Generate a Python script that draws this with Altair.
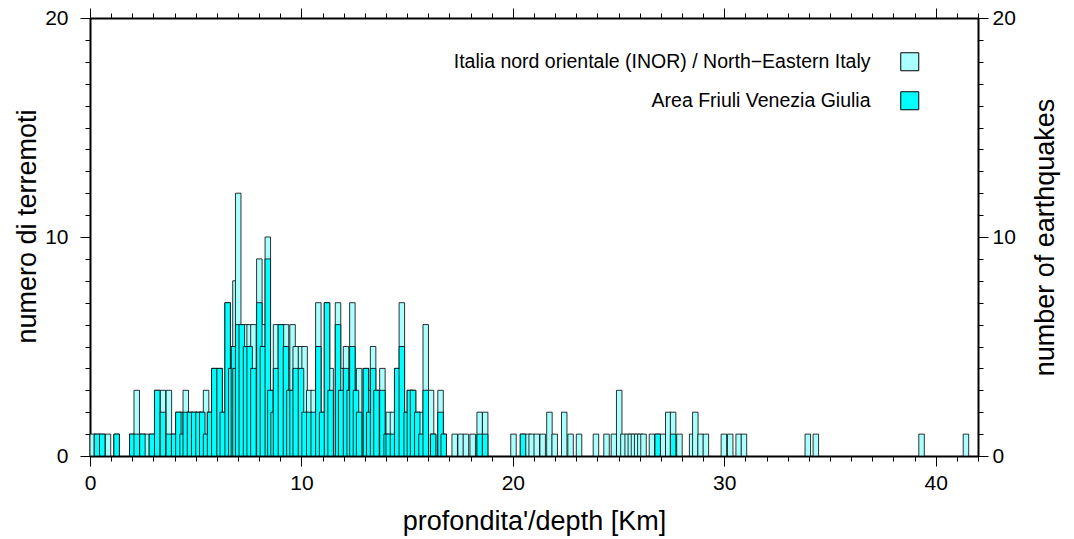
import altair as alt
import pandas as pd

FONT = "Liberation Sans"

# depth of each bar (left edge, km), total count (INOR) and Friuli Venezia Giulia count
depth = [0.00, 0.20, 0.45, 0.72, 1.13, 1.87, 2.08, 2.35, 2.55, 2.80,
         3.05, 3.32, 3.60, 3.85, 4.05, 4.25, 4.40, 4.60, 4.80, 5.00,
         5.18, 5.36, 5.55, 5.75, 6.00, 6.15, 6.38, 6.55, 6.68, 6.75,
         6.88, 7.05, 7.25, 7.42, 7.60, 7.88, 8.05, 8.28, 8.40, 8.55,
         8.67, 8.90, 9.14, 9.30, 9.45, 9.60, 9.85, 10.02, 10.24, 10.45,
         10.67, 10.85, 11.08, 11.25, 11.60, 11.75, 11.98, 12.15, 12.28, 12.45,
         12.60, 12.92, 13.08, 13.26, 13.42, 13.70, 13.90, 14.00, 14.20, 14.40,
         14.62, 14.85, 15.00, 15.15, 15.35, 15.55, 15.75, 16.00, 16.10, 16.45,
         16.60, 17.12, 17.40, 17.65, 17.97, 18.30, 18.56, 19.90, 20.35, 20.60,
         20.76, 21.00, 21.28, 21.60, 21.85, 22.30, 22.60, 23.00, 23.80, 24.30,
         24.65, 24.90, 25.10, 25.30, 25.45, 25.60, 25.75, 25.90, 26.05, 26.45,
         26.72, 26.98, 27.22, 27.45, 27.75, 28.35, 28.50, 28.75, 29.00, 29.85,
         30.15, 30.55, 30.80, 33.82, 34.20, 39.20, 41.30]
n_all = [1, 1, 1, 1, 1, 1, 3, 1, 1, 1,
         3, 3, 3, 1, 2, 2, 3, 2, 2, 2,
         2, 3, 2, 4, 4, 2, 7, 4, 5, 8,
         12, 6, 6, 6, 6, 9, 6, 10, 3, 2,
         6, 6, 6, 4, 6, 5, 5, 5, 3, 3,
         7, 2, 7, 4, 7, 4, 5, 3, 7, 3,
         4, 4, 3, 5, 3, 4, 1, 2, 2, 4,
         7, 2, 3, 3, 2, 2, 6, 3, 1, 3,
         1, 1, 1, 1, 1, 2, 2, 1, 1, 1,
         1, 1, 1, 2, 1, 2, 1, 1, 1, 1,
         1, 3, 1, 1, 1, 1, 1, 1, 1, 1,
         1, 1, 2, 2, 1, 1, 2, 1, 1, 1,
         1, 1, 1, 1, 1, 1, 1]
n_fvg = [0, 1, 1, 0, 1, 1, 1, 1, 0, 1,
         3, 2, 1, 1, 2, 1, 2, 2, 2, 2,
         2, 1, 2, 4, 4, 2, 7, 4, 5, 4,
         6, 6, 5, 5, 4, 7, 5, 9, 3, 2,
         4, 6, 5, 3, 3, 4, 4, 2, 2, 2,
         5, 2, 7, 3, 6, 3, 4, 3, 5, 3,
         2, 4, 2, 4, 3, 3, 1, 1, 1, 4,
         5, 2, 3, 3, 2, 1, 3, 0, 1, 2,
         1, 0, 0, 0, 0, 1, 1, 0, 1, 0,
         0, 0, 0, 0, 0, 0, 0, 0, 0, 0,
         0, 0, 0, 0, 0, 0, 0, 0, 0, 0,
         1, 0, 0, 1, 0, 0, 0, 0, 0, 0,
         0, 0, 0, 0, 0, 0, 0]
bar_width = 0.26

LAB_ALL = "Italia nord orientale (INOR) / North\u2212Eastern Italy"
LAB_FVG = "Area Friuli Venezia Giulia"

df_all = pd.DataFrame({
    "d": depth,
    "d2": [v + bar_width for v in depth],
    "n": n_all,
    "s": LAB_ALL,
})
df_fvg = pd.DataFrame({
    "d": depth,
    "d2": [v + bar_width for v in depth],
    "n": n_fvg,
    "s": LAB_FVG,
})
df_fvg = df_fvg[df_fvg["n"] > 0]

x_scale = alt.Scale(domain=[0, 42], nice=False, zero=False)
y_scale = alt.Scale(domain=[0, 20], nice=False)
color_scale = alt.Scale(domain=[LAB_ALL, LAB_FVG], range=["#aaffff", "#00ffff"])

x_major = [0, 10, 20, 30, 40]
x_minor = list(range(0, 43))
y_major = [0, 10, 20]
y_minor = list(range(0, 21))

legend = alt.Legend(
    title=None, orient="none", legendX=810, legendY=34,
    symbolType="square", symbolSize=324, symbolStrokeColor="black",
    symbolStrokeWidth=1, symbolOpacity=1,
    labelFontSize=19.5, labelFont=FONT, labelColor="black",
    labelAlign="right", labelOffset=alt.ExprRef("-49"), rowPadding=16, padding=0,
    labelLimit=0,
)

bar_style = dict(stroke="black", strokeWidth=1, strokeOpacity=0.8)

layer_all = alt.Chart(df_all).mark_bar(**bar_style).encode(
    x=alt.X("d:Q", scale=x_scale, axis=alt.Axis(
        orient="bottom", values=x_major, tickSize=10, labelPadding=6,
        labelFontSize=21, labelFlush=False,
        title="profondita'/depth [Km]", titleFontSize=27,
        titleX=444, titleY=65, titleBaseline="middle", grid=False)),
    x2="d2:Q",
    y=alt.Y("n:Q", scale=y_scale, axis=alt.Axis(
        orient="left", values=y_major, tickSize=10, labelPadding=12,
        labelFontSize=21, labelFlush=False,
        title="numero di terremoti", titleFontSize=27,
        titleAngle=270, titleX=-63, titleY=208, titleBaseline="middle",
        titleAlign="center", grid=False)),
    y2=alt.datum(0),
    fill=alt.Fill("s:N", scale=color_scale, legend=legend),
)

layer_fvg = alt.Chart(df_fvg).mark_bar(**bar_style).encode(
    x=alt.X("d:Q", scale=x_scale, axis=alt.Axis(
        orient="top", values=x_major, tickSize=10, labels=False,
        title=None, grid=False)),
    x2="d2:Q",
    y=alt.Y("n:Q", scale=y_scale, axis=alt.Axis(
        orient="right", values=y_major, tickSize=10, labelPadding=4,
        labelFontSize=21, labelFlush=False,
        title="number of earthquakes", titleFontSize=27,
        titleAngle=270, titleX=67, titleY=219, titleBaseline="middle",
        titleAlign="center", grid=False)),
    y2=alt.datum(0),
    fill=alt.Fill("s:N", scale=color_scale, legend=legend),
)

minor_a = alt.Chart(df_all).mark_bar(opacity=0).encode(
    x=alt.X("d:Q", scale=x_scale, axis=alt.Axis(
        orient="bottom", values=x_minor, tickSize=5, labels=False,
        domain=False, title=None, grid=False)),
    x2="d2:Q",
    y=alt.Y("n:Q", scale=y_scale, axis=alt.Axis(
        orient="left", values=y_minor, tickSize=5, labels=False,
        domain=False, title=None, grid=False)),
    y2=alt.datum(0),
)

minor_b = alt.Chart(df_all).mark_bar(opacity=0).encode(
    x=alt.X("d:Q", scale=x_scale, axis=alt.Axis(
        orient="top", values=x_minor, tickSize=5, labels=False,
        domain=False, title=None, grid=False)),
    x2="d2:Q",
    y=alt.Y("n:Q", scale=y_scale, axis=alt.Axis(
        orient="right", values=y_minor, tickSize=5, labels=False,
        domain=False, title=None, grid=False)),
    y2=alt.datum(0),
)

chart = alt.layer(layer_all, layer_fvg, minor_a, minor_b).resolve_axis(
    x="independent", y="independent"
).properties(
    width=888, height=438,
    autosize=alt.AutoSizeParams(type="none"),
    padding={"left": 90, "top": 18, "right": 96, "bottom": 83},
    background="white",
).configure_view(stroke=None).configure_axis(
    labelFont=FONT, titleFont=FONT, labelColor="black", titleColor="black",
    tickColor="black", domainColor="black", domainWidth=2, tickWidth=1,
    titleFontWeight="normal",
)

chart.save("out.html", embed_options={"renderer": "svg", "actions": False})
